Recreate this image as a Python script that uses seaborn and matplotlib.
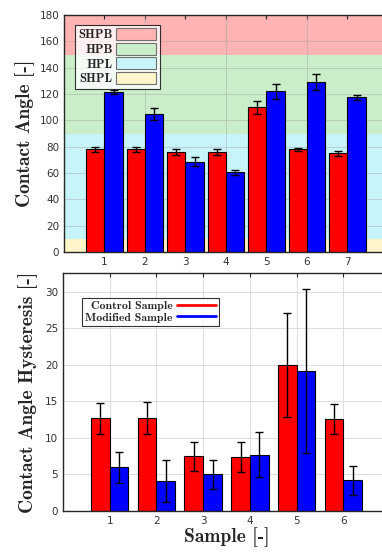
import matplotlib
matplotlib.use("Agg")
import matplotlib.pyplot as plt
import matplotlib.patches as mpatches
from matplotlib.lines import Line2D
import numpy as np
import pandas as pd
import seaborn as sns

# contact angle data (samples 1-7)
ca_samples = [1, 2, 3, 4, 5, 6, 7]
ca_control = [78, 78, 76, 76, 110, 78, 75]
ca_control_err = [2, 2, 2, 2, 5, 1, 2]
ca_modified = [121.5, 105, 68.5, 60.5, 122, 129, 117.5]
ca_modified_err = [1.5, 4.5, 3.5, 2, 5.5, 6, 2]

# hysteresis data (samples 1-6)
h_samples = [1, 2, 3, 4, 5, 6]
h_control = [12.7, 12.7, 7.5, 7.4, 20.0, 12.6]
h_control_err = [2.1, 2.2, 2.0, 2.0, 7.1, 2.0]
h_modified = [6.0, 4.1, 5.0, 7.7, 19.2, 4.2]
h_modified_err = [2.1, 2.9, 2.0, 3.1, 11.2, 2.0]

band_names = ["SHPB", "HPB", "HPL", "SHPL"]
band_ranges = [(150, 180), (90, 150), (10, 90), (0, 10)]
band_colors = ["#ffb3b3", "#c9eec9", "#c6f4f8", "#fff5c8"]

RED = "#ff0000"
BLUE = "#0000ff"
SERIF = ["cmb10", "Liberation Serif", "DejaVu Serif"]

sns.set_theme(style="white")
plt.rcParams["font.family"] = ["DejaVu Sans"]
plt.rcParams["axes.unicode_minus"] = False

fig = plt.figure(figsize=(3.82, 5.52), dpi=100)
ax1 = fig.add_axes([0.1675, 0.5435, 0.848, 0.4293])
ax2 = fig.add_axes([0.165, 0.0743, 0.856, 0.4311])


def make_df(samples, a, b):
    return pd.DataFrame({
        "sample": [str(s) for s in samples] * 2,
        "value": list(a) + list(b),
        "group": ["Control Sample"] * len(a) + ["Modified Sample"] * len(b),
    })


# ---- top: contact angle ----
for (lo, hi), c in zip(band_ranges, band_colors):
    ax1.axhspan(lo, hi, color=c, zorder=0, lw=0)

df1 = make_df(ca_samples, ca_control, ca_modified)
sns.barplot(data=df1, x="sample", y="value", hue="group", palette=[RED, BLUE],
            saturation=1, width=0.9, edgecolor="black", linewidth=0.8,
            legend=False, errorbar=None, ax=ax1, zorder=2)
pos = np.arange(len(ca_samples))
ax1.errorbar(pos - 0.225, ca_control, yerr=ca_control_err, fmt="none",
             ecolor="black", elinewidth=1, capsize=3, capthick=1, zorder=3)
ax1.errorbar(pos + 0.225, ca_modified, yerr=ca_modified_err, fmt="none",
             ecolor="black", elinewidth=1, capsize=3, capthick=1, zorder=3)
ax1.set_xlim(-1, 7)
ax1.set_ylim(0, 180)
ax1.set_yticks(range(0, 181, 20))
ax1.set_xticks(pos)
ax1.set_xticklabels([str(s) for s in ca_samples])
ax1.set_xlabel("")
ax1.set_ylabel("Contact Angle [-]", family=SERIF, fontsize=14, labelpad=3)
for x in [0, 2, 4, 6]:
    ax1.axvline(x - 1, color="#a0a0a0", lw=0.5, alpha=0.6, zorder=1)
ax1.yaxis.grid(True, color="#a0a0a0", lw=0.5, alpha=0.6, zorder=1)
ax1.set_axisbelow(True)

handles = [mpatches.Patch(facecolor=c, edgecolor="#707070", lw=0.8) for c in band_colors]
leg1 = ax1.legend(handles, band_names, loc="upper left", markerfirst=False,
                  prop={"family": SERIF, "size": 9},
                  frameon=True, fancybox=False, edgecolor="black",
                  handlelength=3.2, handleheight=1.1, labelspacing=0.12,
                  borderpad=0.25, handletextpad=0.3, bbox_to_anchor=(0.015, 0.985))
leg1.get_frame().set_linewidth(0.8)
leg1.get_frame().set_facecolor("white")
for t in leg1.get_texts():
    t.set_ha("right")

# ---- bottom: hysteresis ----
df2 = make_df(h_samples, h_control, h_modified)
sns.barplot(data=df2, x="sample", y="value", hue="group", palette=[RED, BLUE],
            saturation=1, width=0.8, edgecolor="black", linewidth=0.8,
            legend=False, errorbar=None, ax=ax2, zorder=2)
pos2 = np.arange(len(h_samples))
ax2.errorbar(pos2 - 0.2, h_control, yerr=h_control_err, fmt="none",
             ecolor="black", elinewidth=1, capsize=3, capthick=1, zorder=3)
ax2.errorbar(pos2 + 0.2, h_modified, yerr=h_modified_err, fmt="none",
             ecolor="black", elinewidth=1, capsize=3, capthick=1, zorder=3)
ax2.set_xlim(-1, 6)
ax2.set_ylim(0, 32.6)
ax2.set_yticks(range(0, 31, 5))
ax2.set_xticks(pos2)
ax2.set_xticklabels([str(s) for s in h_samples])
ax2.set_xlabel("Sample [-]", family=SERIF, fontsize=14, labelpad=1)
ax2.set_ylabel("Contact Angle Hysteresis [-]", family=SERIF, fontsize=14,
               labelpad=5)
ax2.grid(True, color="#d8d8d8", lw=0.6)
ax2.set_axisbelow(True)

lh = [Line2D([0], [0], color=RED, lw=2), Line2D([0], [0], color=BLUE, lw=2)]
leg2 = ax2.legend(lh, ["Control Sample", "Modified Sample"], loc="upper left",
                  markerfirst=False, prop={"family": SERIF, "size": 8.5},
                  frameon=True, fancybox=False, edgecolor="black",
                  handlelength=3.3, labelspacing=0.1, borderpad=0.25,
                  handletextpad=0.4, bbox_to_anchor=(0.04, 0.92))
leg2.get_frame().set_linewidth(0.8)
leg2.get_frame().set_facecolor("white")
for t in leg2.get_texts():
    t.set_ha("right")

for ax in (ax1, ax2):
    for s in ax.spines.values():
        s.set_visible(True)
        s.set_color("#262626")
        s.set_linewidth(1.0)
    ax.tick_params(direction="in", length=3, width=0.8, labelsize=7.5,
                   labelcolor="#333333", color="#262626", top=True, right=True)

fig.savefig("out.png", dpi=100)
